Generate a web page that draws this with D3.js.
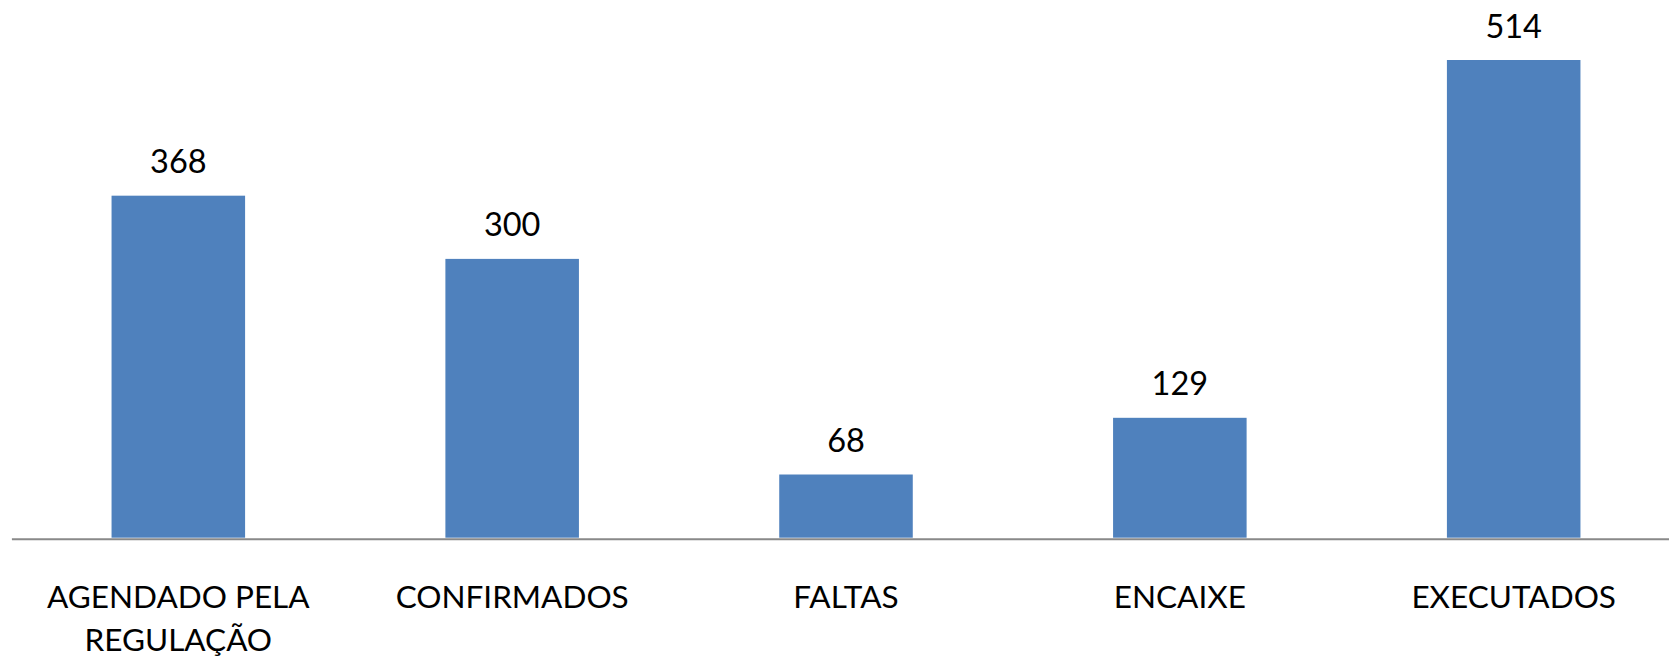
<!DOCTYPE html>
<html>
<head>
<meta charset="utf-8">
<script src="https://cdn.jsdelivr.net/npm/d3@7"></script>
<style>
  html, body { margin: 0; padding: 0; background: #ffffff; }
  svg { display: block; }
  text { font-family: Lato, "Open Sans", "Noto Sans", sans-serif; fill: #000000; }
</style>
</head>
<body>
<svg id="chart" width="1669" height="660"></svg>
<script>
// Category labels (line breaks as displayed)
const categories = [
  ["AGENDADO PELA", "REGULAÇÃO"],
  ["CONFIRMADOS"],
  ["FALTAS"],
  ["ENCAIXE"],
  ["EXECUTADOS"]
];
const values = [368, 300, 68, 129, 514];

const W = 1669, H = 660;
const plot = { left: 11.4, right: 1680.6, top: 60, bottom: 537.7 };

const svg = d3.select("#chart");

const keys = categories.map((c, i) => i);

const x = d3.scaleBand()
  .domain(keys)
  .range([plot.left, plot.right])
  .paddingInner(0.6)
  .paddingOuter(0.3);

const y = d3.scaleLinear()
  .domain([0, d3.max(values)])
  .range([plot.bottom, plot.top]);

// Bars
svg.append("g")
  .selectAll("rect")
  .data(values)
  .join("rect")
  .attr("x", (d, i) => x(i))
  .attr("y", d => y(d))
  .attr("width", x.bandwidth())
  .attr("height", d => y(0) - y(d))
  .attr("fill", "#4f81bd");

// Category axis along the baseline
const axis = svg.append("g")
  .attr("transform", `translate(0,${plot.bottom + 1})`)
  .call(d3.axisBottom(x).tickSize(0).tickFormat(() => ""));
axis.select(".domain")
  .attr("stroke", "#898989")
  .attr("stroke-width", 2);

// Category labels, one tspan per line
const catFont = 31.5;
const labels = svg.append("g")
  .selectAll("text")
  .data(categories)
  .join("text")
  .attr("text-anchor", "middle")
  .style("font-size", catFont + "px")
  .attr("transform", (d, i) => `translate(${x(i) + x.bandwidth() / 2},607.5)`);
labels.selectAll("tspan")
  .data(d => d)
  .join("tspan")
  .attr("x", 0)
  .attr("y", (d, j) => j * 43.5)
  .text(d => d);

// Value labels above bars
const valFont = 32.5;
svg.append("g")
  .selectAll("text")
  .data(values)
  .join("text")
  .attr("text-anchor", "middle")
  .style("font-size", valFont + "px")
  .attr("x", (d, i) => x(i) + x.bandwidth() / 2)
  .attr("y", d => y(d) - 22.5)
  .text(d => d);
</script>
</body>
</html>
